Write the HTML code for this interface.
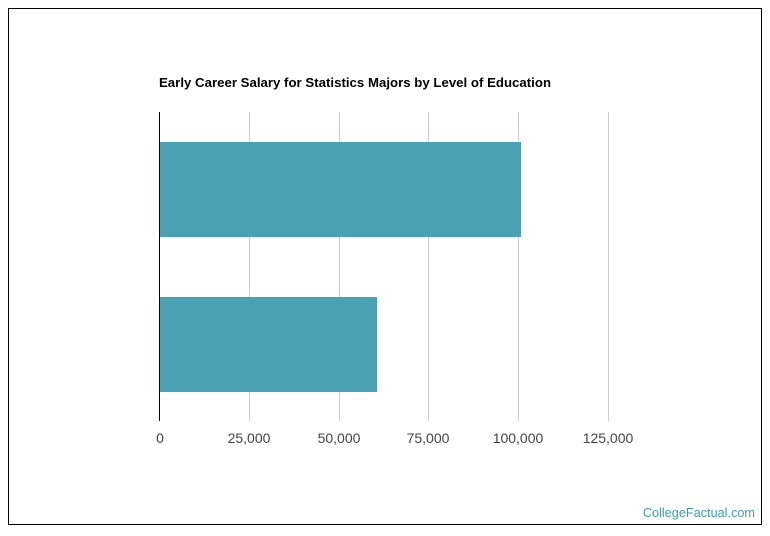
<!DOCTYPE html>
<html><head><style>
body{margin:0;background:#fff;width:770px;height:536px;overflow:hidden;font-family:"Liberation Sans",sans-serif;}
</style></head><body>
<svg width="770" height="536" xmlns="http://www.w3.org/2000/svg" style="position:absolute;left:0;top:0">
<rect x="8.5" y="8.5" width="753" height="516" fill="#fff" stroke="#000" stroke-width="1"/>
<text x="159" y="87" font-family="Liberation Sans, sans-serif" font-size="13.2" font-weight="bold" fill="#000" textLength="392">Early Career Salary for Statistics Majors by Level of Education</text>
<g stroke="#ccc" stroke-width="1">
<line x1="249.5" y1="112" x2="249.5" y2="421"/>
<line x1="339.5" y1="112" x2="339.5" y2="421"/>
<line x1="428.5" y1="112" x2="428.5" y2="421"/>
<line x1="518.5" y1="112" x2="518.5" y2="421"/>
<line x1="608.5" y1="112" x2="608.5" y2="421"/>
</g>
<rect x="159" y="142" width="362" height="95" fill="#4aa1b4"/>
<rect x="159" y="297" width="218" height="95" fill="#4aa1b4"/>
<line x1="159.5" y1="112" x2="159.5" y2="421" stroke="#000" stroke-width="1"/>
<g font-family="Liberation Sans, sans-serif" font-size="14" fill="#444" text-anchor="middle">
<text x="160" y="443">0</text>
<text x="249" y="443">25,000</text>
<text x="339" y="443">50,000</text>
<text x="428" y="443">75,000</text>
<text x="518" y="443">100,000</text>
<text x="608" y="443">125,000</text>
</g>
<text x="755" y="517" text-anchor="end" font-family="Liberation Sans, sans-serif" font-size="12.7" fill="#3a9fb0">CollegeFactual.com</text>
</svg>
</body></html>
